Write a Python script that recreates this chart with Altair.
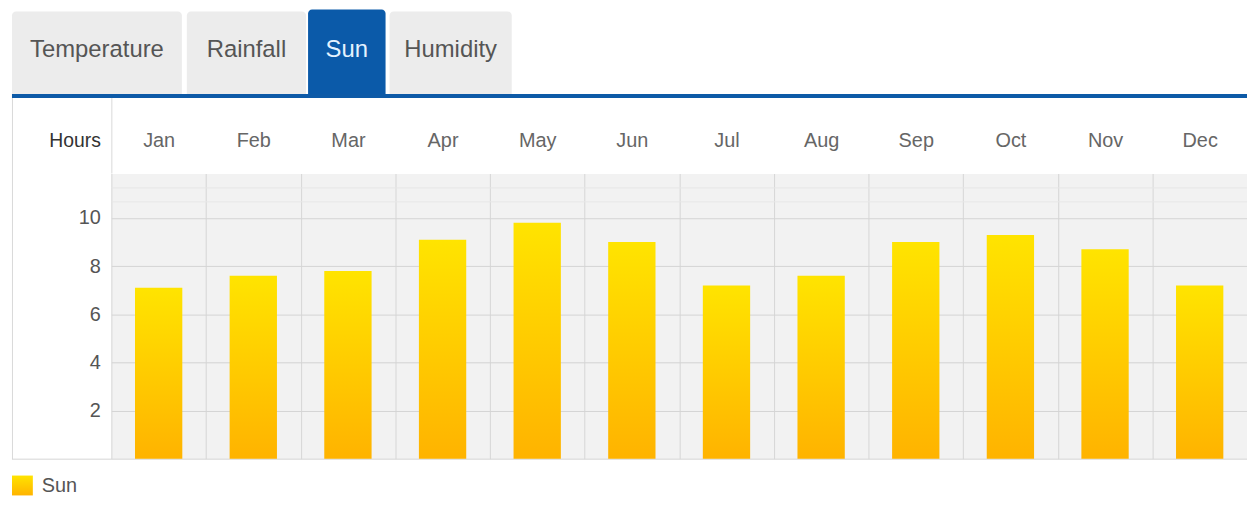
import altair as alt
import pandas as pd

# ---------------- data ----------------
months = ["Jan", "Feb", "Mar", "Apr", "May", "Jun",
          "Jul", "Aug", "Sep", "Oct", "Nov", "Dec"]
sun_hours = [7.1, 7.6, 7.8, 9.1, 9.8, 9.0, 7.2, 7.6, 9.0, 9.3, 8.7, 7.2]
y_ticks = [2, 4, 6, 8, 10]
tab_labels = ["Temperature", "Rainfall", "Sun", "Humidity"]
active_tab = "Sun"
series_name = "Sun"
y_title = "Hours"

# ---------------- layout / style ----------------
FONT = "Liberation Sans Narrow, Liberation Sans, Arial, sans-serif"
W, H = 1143, 287
Y_MAX = 11.85
TAB_SPANS = [(-100, 71), (76, 196), (198, 276), (280, 403)]

df = pd.DataFrame({"month": months, "hours": sun_hours})
one = pd.DataFrame({"k": [0]})

bar_gradient = alt.Gradient(
    gradient="linear",
    stops=[alt.GradientStop(color="#ffe400", offset=0),
           alt.GradientStop(color="#ffb300", offset=1)],
    x1=0, x2=0, y1=0, y2=1,
)


def rect(x, x2, y, y2, color, **kw):
    return alt.Chart(one).mark_rect(color=color, **kw).encode(
        x=alt.value(x), x2=alt.value(x2), y=alt.value(y), y2=alt.value(y2))


def hrule(x, x2, y, color):
    return alt.Chart(one).mark_rule(color=color, strokeWidth=1).encode(
        x=alt.value(x), x2=alt.value(x2), y=alt.value(y))


def vrule(x, y, y2, color):
    return alt.Chart(one).mark_rule(color=color, strokeWidth=1).encode(
        x=alt.value(x), y=alt.value(y), y2=alt.value(y2))


def label(txt, x, y, size, color, align="center", baseline="alphabetic"):
    return alt.Chart(one).mark_text(
        text=txt, fontSize=size, color=color, align=align, baseline=baseline,
        font=FONT).encode(x=alt.value(x), y=alt.value(y))


layers = []

# tabs
for name, (x1, x2) in zip(tab_labels, TAB_SPANS):
    active = name == active_tab
    layers.append(rect(x1, x2, -165 if active else -163, -80,
                       "#0b5aa9" if active else "#ececec",
                       cornerRadiusTopLeft=4, cornerRadiusTopRight=4))
    layers.append(label(name, (x1 + x2) / 2, -117, 24,
                        "#e4f2ff" if active else "#555555"))

# blue line under tabs
layers.append(rect(-100, W, -80, -76, "#0d5aa7"))

# borders
layers.append(vrule(-99.5, -76, H + 0.5, "#d9d9d9"))
layers.append(vrule(0.5, -76, 0, "#d9d9d9"))
layers.append(hrule(-100, W, H + 0.5, "#d6d6d6"))

# faint lines near top of plot
layers.append(hrule(0, W, 14.5, "#e7e7e7"))
layers.append(hrule(0, W, 28.5, "#e7e7e7"))

# bars
bars = alt.Chart(df).mark_bar(
    width=alt.RelativeBandSize(band=0.5), color=bar_gradient
).encode(
    x=alt.X("month:N", sort=months,
            scale=alt.Scale(paddingInner=0, paddingOuter=0),
            axis=alt.Axis(orient="top", title=None, labelAngle=0,
                          ticks=False, tickSize=0, domain=False,
                          grid=True, tickBand="extent",
                          gridColor="#d6d6d6", gridWidth=1,
                          labelPadding=33, labelBaseline="middle",
                          labelFontSize=20, labelColor="#666666",
                          labelFont=FONT)),
    y=alt.Y("hours:Q",
            scale=alt.Scale(domain=[0, Y_MAX], nice=False, zero=True),
            axis=alt.Axis(values=y_ticks, title=y_title, titleAngle=0,
                          titleAlign="right", titleBaseline="middle",
                          titleX=-11, titleY=-33, titleFontWeight="normal",
                          titleFontSize=19.5, titleColor="#333333",
                          titleFont=FONT,
                          labelFontSize=20, labelColor="#555555",
                          labelPadding=11, labelFont=FONT,
                          ticks=False, tickSize=0, domain=False,
                          grid=True, gridColor="#d4d4d4")),
)
layers.append(bars)

# legend
layers.append(rect(-100, -79, 304, 324, bar_gradient))
layers.append(label(series_name, -70, 315, 20, "#555555",
                    align="left", baseline="middle"))

chart = alt.layer(*layers).properties(
    width=W, height=H,
    autosize=alt.AutoSizeParams(type="none"),
    padding={"left": 104, "top": 165, "right": 0, "bottom": 38},
).configure(font=FONT, background="white").configure_view(
    fill="#f2f2f2", stroke="transparent")

chart.save("out.html", embed_options={"renderer": "svg", "actions": False})
